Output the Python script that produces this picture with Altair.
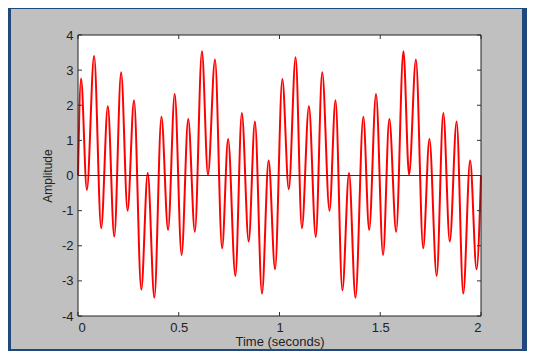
import altair as alt
import pandas as pd

# signal extrema (time in s, amplitude)
t_vals = [0.0, 0.015, 0.044, 0.08, 0.115, 0.148, 0.18, 0.214, 0.246, 0.278,
          0.314, 0.346, 0.379, 0.414, 0.447, 0.48, 0.514, 0.547, 0.58, 0.615,
          0.645, 0.68, 0.715, 0.745, 0.781, 0.813, 0.847, 0.878, 0.913, 0.946,
          0.978, 1.014, 1.046, 1.08, 1.111, 1.146, 1.18, 1.212, 1.248, 1.278,
          1.312, 1.345, 1.377, 1.416, 1.445, 1.479, 1.514, 1.545, 1.579, 1.615,
          1.643, 1.677, 1.713, 1.744, 1.78, 1.813, 1.845, 1.879, 1.912, 1.946,
          1.978, 2.0]
amp_vals = [0.0, 2.76, -0.41, 3.4, -1.5, 1.97, -1.74, 2.94, -1.0, 2.14,
            -3.25, 0.07, -3.48, 1.67, -1.55, 2.32, -2.26, 1.61, -1.6, 3.54,
            0.02, 3.3, -2.07, 1.04, -2.86, 1.78, -1.88, 1.54, -3.36, 0.43,
            -2.67, 2.75, -0.39, 3.37, -1.5, 1.97, -1.75, 2.94, -1.0, 2.14,
            -3.27, 0.07, -3.48, 1.67, -1.55, 2.32, -2.26, 1.61, -1.6, 3.54,
            0.02, 3.3, -2.07, 1.04, -2.86, 1.78, -1.88, 1.54, -3.36, 0.43,
            -2.67, 0.0]

x_ticks = [0, 0.5, 1, 1.5, 2]
y_ticks = [-4, -3, -2, -1, 0, 1, 2, 3, 4]

W, H = 403, 281
FONT = "Liberation Sans"

sig = pd.DataFrame({"t": t_vals, "a": amp_vals})
xt = pd.DataFrame({"t": x_ticks})
yt = pd.DataFrame({"a": y_ticks})

xs = alt.Scale(domain=[0, 2], nice=False)
ys = alt.Scale(domain=[-4, 4], nice=False)

xax = alt.Axis(values=x_ticks, format=".1~f", title="Time (seconds)",
               ticks=False, domain=False, grid=False, zindex=1,
               labelPadding=5, titlePadding=1, titleFontSize=13)
yax = alt.Axis(values=y_ticks, labelExpr="'' + datum.value",
               labelOverlap=False, title="Amplitude", ticks=False,
               domain=False, zindex=1, grid=False, labelPadding=5,
               titlePadding=7, titleFontSize=12)

one = pd.DataFrame({"k": [0]})

# gray panel over blue background
panel = alt.Chart(one).mark_rect(color="#C0C0C0").encode(
    x=alt.value(-67), x2=alt.value(444), y=alt.value(-26), y2=alt.value(314))
white = alt.Chart(one).mark_rect(color="white").encode(
    x=alt.value(0), x2=alt.value(W), y=alt.value(0), y2=alt.value(H))

line = alt.Chart(sig).mark_line(color="#FF0000", strokeWidth=2,
                                interpolate="monotone").encode(
    x=alt.X("t:Q", scale=xs, axis=xax),
    y=alt.Y("a:Q", scale=ys, axis=yax),
)

zero = alt.Chart(pd.DataFrame({"a": [0]})).mark_rule(
    color="#333333", strokeWidth=1).encode(
    y=alt.Y("a:Q", scale=ys, axis=yax), x=alt.value(0), x2=alt.value(W))

tick_col = "#333333"
xt_bot = alt.Chart(xt).mark_rule(color=tick_col).encode(
    x=alt.X("t:Q", scale=xs, axis=xax), y=alt.value(H - 4), y2=alt.value(H))
xt_top = alt.Chart(xt).mark_rule(color=tick_col).encode(
    x=alt.X("t:Q", scale=xs, axis=xax), y=alt.value(0), y2=alt.value(4))
yt_left = alt.Chart(yt).mark_rule(color=tick_col).encode(
    y=alt.Y("a:Q", scale=ys, axis=yax), x=alt.value(0), x2=alt.value(4))
yt_right = alt.Chart(yt).mark_rule(color=tick_col).encode(
    y=alt.Y("a:Q", scale=ys, axis=yax), x=alt.value(W - 4), x2=alt.value(W))
box = alt.Chart(one).mark_rect(fill=None, stroke="#222222", strokeWidth=1).encode(
    x=alt.value(0), x2=alt.value(W), y=alt.value(0), y2=alt.value(H))

chart = alt.layer(panel, white, line, zero, xt_bot, xt_top, yt_left, yt_right, box).properties(
    width=W, height=H,
    autosize=alt.AutoSizeParams(type="none"),
    padding={"left": 70, "top": 27, "right": 46, "bottom": 35},
    background="#1F497D",
).configure_view(
    stroke=None, fill=None
).configure_axis(
    labelFont=FONT, labelFontSize=13, labelColor="#222222",
    titleFont=FONT, titleColor="#222222", titleFontWeight="normal",
)

chart.save("out.html", embed_options={"renderer": "svg", "actions": False})
